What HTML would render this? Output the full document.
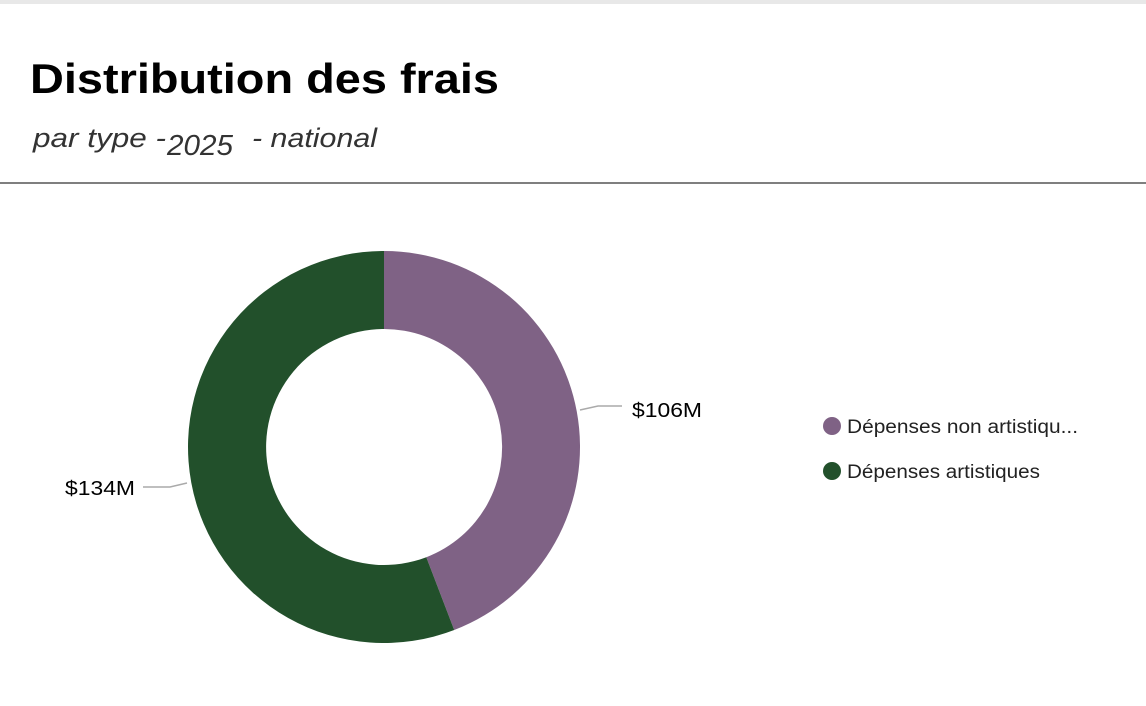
<!DOCTYPE html>
<html><head><meta charset="utf-8"><style>
html,body{margin:0;padding:0;background:#fff;}
svg{display:block;}
</style></head><body>
<svg width="1146" height="706" viewBox="0 0 1146 706" xmlns="http://www.w3.org/2000/svg" font-family="Liberation Sans, sans-serif">
<rect x="0" y="0" width="1146" height="4" fill="#e8e8e8"/>
<text x="30" y="93" font-size="42" font-weight="bold" fill="#000" textLength="469" lengthAdjust="spacingAndGlyphs">Distribution des frais</text>
<text x="33" y="147" font-size="27" font-style="italic" fill="#333" textLength="133" lengthAdjust="spacingAndGlyphs">par type -</text>
<text x="167" y="155" font-size="29" font-style="italic" fill="#333" textLength="66" lengthAdjust="spacingAndGlyphs">2025</text>
<text x="252" y="147" font-size="27" font-style="italic" fill="#333" textLength="125" lengthAdjust="spacingAndGlyphs">- national</text>
<rect x="0" y="182" width="1146" height="2" fill="#7f7f7f"/>
<path d="M384 251 A196 196 0 0 1 454.2 630 L426.3 557.2 A118 118 0 0 0 384 329 Z" fill="#7f6285"/>
<path d="M454.2 630 A196 196 0 1 1 384 251 L384 329 A118 118 0 1 0 426.3 557.2 Z" fill="#22502b"/>
<polyline points="580,410 598,406 622,406" fill="none" stroke="#aaa" stroke-width="1.5"/>
<polyline points="187,483 170,487 143,487" fill="none" stroke="#aaa" stroke-width="1.5"/>
<text x="632" y="417" font-size="20" fill="#000" textLength="70" lengthAdjust="spacingAndGlyphs">$106M</text>
<text x="65" y="495" font-size="20" fill="#000" textLength="70" lengthAdjust="spacingAndGlyphs">$134M</text>
<circle cx="832" cy="426" r="9" fill="#7f6285"/>
<text x="847" y="433" font-size="19" fill="#222" textLength="231" lengthAdjust="spacingAndGlyphs">Dépenses non artistiqu...</text>
<circle cx="832" cy="471" r="9" fill="#22502b"/>
<text x="847" y="478" font-size="19" fill="#222" textLength="193" lengthAdjust="spacingAndGlyphs">Dépenses artistiques</text>
</svg>
</body></html>
